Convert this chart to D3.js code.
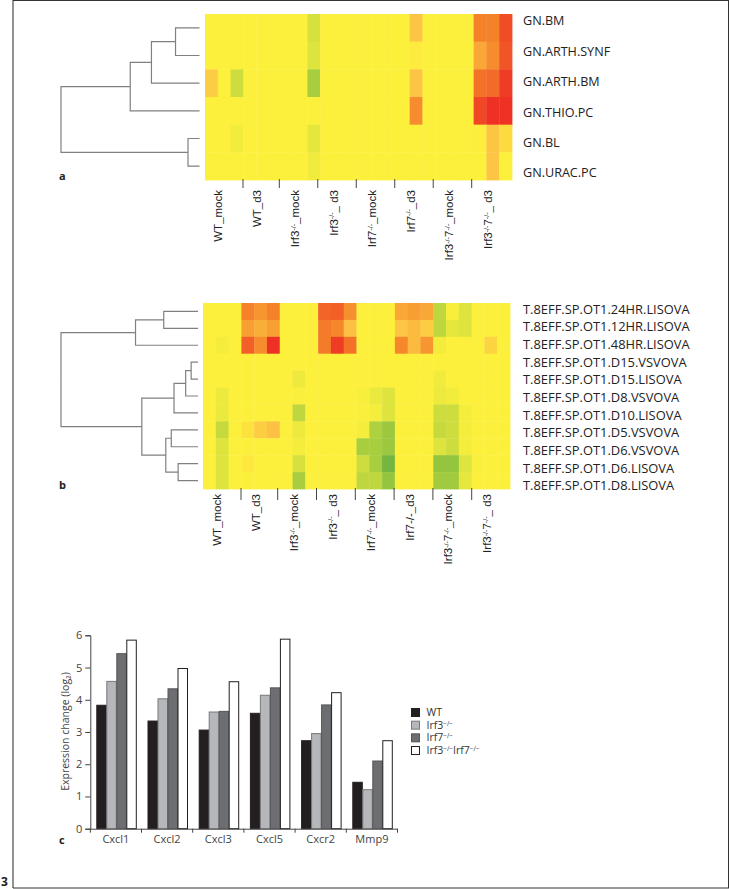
<!DOCTYPE html>
<html><head><meta charset="utf-8">
<script src="https://cdn.jsdelivr.net/npm/d3@7"></script>
<style>html,body{margin:0;padding:0;background:#fff}svg{display:block}</style>
</head><body><div id="c"></div>
<script>
const conditionsA = [
  [["WT_mock"]], [["WT_d3"]],
  [["Irf3"],["-/-","sup"],["_mock"]], [["Irf3"],["-/-","sup"],["_ d3"]],
  [["Irf7"],["-/-","sup"],["_mock"]], [["Irf7"],["-/-","sup"],["_d3"]],
  [["Irf3"],["-/-","sup"],["7"],["-/-","sup"],["_mock"]], [["Irf3"],["-/-","sup"],["7"],["-/-","sup"],["_ d3"]]
];
const conditionsB = [
  [["WT_mock"]], [["WT_d3"]],
  [["Irf3"],["-/-","sup"],["_mock"]], [["Irf3"],["-/-","sup"],["_ d3"]],
  [["Irf7"],["-/-","sup"],["_mock"]], [["Irf7-/-_d3"]],
  [["Irf3"],["-/-","sup"],["7"],["-/-","sup"],["_mock"]], [["Irf3"],["-/-","sup"],["7"],["-/-","sup"],["_ d3"]]
];
const rowsA = ["GN.BM","GN.ARTH.SYNF","GN.ARTH.BM","GN.THIO.PC","GN.BL","GN.URAC.PC"];
const rowsB = ["T.8EFF.SP.OT1.24HR.LISOVA","T.8EFF.SP.OT1.12HR.LISOVA","T.8EFF.SP.OT1.48HR.LISOVA","T.8EFF.SP.OT1.D15.VSVOVA","T.8EFF.SP.OT1.D15.LISOVA","T.8EFF.SP.OT1.D8.VSVOVA","T.8EFF.SP.OT1.D10.LISOVA","T.8EFF.SP.OT1.D5.VSVOVA","T.8EFF.SP.OT1.D6.VSVOVA","T.8EFF.SP.OT1.D6.LISOVA","T.8EFF.SP.OT1.D8.LISOVA"];
// expression matrices: 24 columns (3 per condition)
const heatA = [
 [0,0,0,0,0,0,0,0,-.25,0,0,0,0,0,0,0,.3,0,0,0,0,.65,.65,.88],
 [0,0,0,0,0,0,0,0,-.2,0,0,0,0,0,0,0,.03,0,0,0,0,.45,.6,.85],
 [.25,0,-.3,0,0,0,0,0,-.55,0,0,0,0,0,0,0,.3,0,0,0,0,.72,.75,.95],
 [0,0,0,0,0,0,0,0,0,0,0,0,0,0,0,0,.6,0,0,0,0,.9,1,1],
 [0,0,-.07,0,0,0,0,0,-.15,0,0,0,0,0,0,0,0,0,0,0,0,.02,.3,.15],
 [0,0,0,0,0,0,0,0,-.08,0,0,0,0,0,0,0,0,0,0,0,0,0,.3,0]
];
const heatB = [
 [0,0,0,.65,.55,.65,0,0,0,.78,.8,.58,0,0,0,.45,.5,.45,-.4,-.03,-.2,0,0,0],
 [0,0,0,.5,.42,.5,0,0,0,.68,.62,.32,0,0,0,.3,.35,.25,-.4,-.15,-.2,0,0,0],
 [0,-.05,0,.8,.6,1,0,0,0,.68,.95,.72,0,0,0,.62,.35,.55,-.06,0,0,0,.2,0],
 [0,0,0,0,0,0,0,0,0,0,0,0,0,0,0,0,0,0,0,0,0,0,0,0],
 [0,0,0,0,0,0,0,-.1,0,0,0,0,0,0,0,0,0,0,-.08,0,0,0,0,0],
 [0,-.1,0,0,0,0,0,-.02,0,0,0,0,-.03,-.12,-.2,0,0,0,-.1,-.07,0,0,0,0],
 [0,-.12,0,0,0,0,0,-.4,0,0,0,0,-.02,-.05,-.2,0,0,0,-.3,-.3,-.05,0,0,0],
 [0,-.35,0,.1,.25,.32,0,-.1,0,0,0,0,-.05,-.5,-.65,0,0,0,-.35,-.3,-.05,0,0,0],
 [0,-.2,0,0,0,0,0,-.05,0,0,0,0,-.55,-.55,-.65,0,0,0,-.2,-.3,-.05,0,0,0],
 [0,-.2,0,.05,0,0,0,-.25,0,0,0,0,-.3,-.55,-.95,0,0,0,-.7,-.7,-.2,-.02,0,0],
 [0,-.2,0,0,0,0,0,-.55,0,0,0,0,-.4,-.4,-.7,0,0,0,-.6,-.6,-.15,0,0,0]
];
// dendrograms as [mergeHeight, left, right]; a number is a row index
const treeA = [1,[.5,[.347,[.173,0,1],2],3],[.083,4,5]];
const treeB = [1,
  [.456,[.25,0,1],2],
  [.41,[.175,[.09,[.05,3,4],5],6],[.235,[.195,7,8],[.145,9,10]]]
];
const genes = ["Cxcl1","Cxcl2","Cxcl3","Cxcl5","Cxcr2","Mmp9"];
const strains = ["WT","Irf3","Irf7","Irf3Irf7"];
const strainLabels = [[["WT"]],[["Irf3"],["−/−","sup"]],[["Irf7"],["−/−","sup"]],[["Irf3"],["−/−","sup"],["Irf7"],["−/−","sup"]]];
const wt   = [3.83,3.34,3.06,3.58,2.73,1.44];
const irf3 = [4.57,4.03,3.62,4.14,2.95,1.21];
const irf7 = [5.43,4.34,3.64,4.37,3.84,2.10];
const dko  = [5.85,4.97,4.56,5.88,4.22,2.73];
const yTicks = [0,1,2,3,4,5,6];

const svg = d3.select("#c").append("svg").attr("width",729).attr("height",889);
const sans = "'Open Sans','Noto Sans',sans-serif", arial = "'Liberation Sans',Arial,sans-serif";

// page frame
svg.append("path").attr("d","M13,0V888").attr("stroke","#777").attr("stroke-width",1.6).attr("fill","none");
svg.append("path").attr("d","M13,0.5H729M13,888H729").attr("stroke","#333").attr("stroke-width",1.2).attr("fill","none");
svg.append("path").attr("d","M728.5,0V888").attr("stroke","#333").attr("stroke-width",1).attr("fill","none");
svg.append("text").attr("x",1).attr("y",886).attr("font-family",sans).attr("font-weight",700).attr("font-size",12).attr("fill","#222").text("3");

const color = d3.scaleLinear().domain([-1,-.5,0,.3,.65,1])
  .range(["#6db33f","#aed13f","#fdf03c","#fcc543","#f58229","#ee3124"]);

function rich(sel, parts, size){
  let back = 0;
  parts.forEach(p=>{
    const sup = p[1]==="sup";
    const rise = sup ? -size*.3 : 0;
    sel.append("tspan").attr("font-size",sup?size*.62:size).attr("dy",back+rise).text(p[0]);
    back = -rise;
  });
}

function heatmap(o){
  const g = svg.append("g");
  const x = d3.scaleBand().domain(d3.range(24)).range([o.x0,o.x1]);
  const y = d3.scaleBand().domain(d3.range(o.rows.length)).range([o.y0,o.y1]);
  o.data.forEach((row,r)=>row.forEach((v,c)=>{
    g.append("rect").attr("x",x(c)).attr("y",y(r)).attr("width",x.bandwidth()+.4).attr("height",y.bandwidth()+.4)
      .attr("fill",color(v));
  }));
  const ly = d3.scalePoint().domain(d3.range(o.rows.length)).range(o.labelY);
  o.rows.forEach((t,i)=>g.append("text").attr("x",o.labelX).attr("y",ly(i)).attr("dy","0.35em")
    .attr("font-family",sans).attr("font-size",o.labelSize).attr("fill","#222").text(t));
  const tick = d3.scaleLinear().domain([1,2,7]).range(o.tickX);
  d3.range(1,8).forEach(i=>g.append("line").attr("x1",tick(i)).attr("x2",tick(i))
    .attr("y1",o.y1-1).attr("y2",o.y1+o.tickLen).attr("stroke","#444").attr("stroke-width",1));
  const lab = d3.scalePoint().domain(d3.range(8)).range(o.condX);
  o.conds.forEach((parts,i)=>{
    const t = g.append("text").attr("transform",`translate(${lab(i)+4},${o.condY}) rotate(-90)`)
      .attr("text-anchor","end").attr("font-family",arial).attr("fill","#222");
    rich(t,parts,11.5);
  });
  const dx = d3.scaleLinear().domain([0,1]).range([o.dendLeaf,o.dendRoot]);
  const path = d3.path();
  function walk(n){
    if(typeof n==="number") return {h:0,y:y(n)+y.bandwidth()/2};
    const a = walk(n[1]), b = walk(n[2]), X = dx(n[0]);
    path.moveTo(dx(a.h),a.y); path.lineTo(X,a.y); path.lineTo(X,b.y); path.lineTo(dx(b.h),b.y);
    return {h:n[0],y:(a.y+b.y)/2};
  }
  walk(o.tree);
  g.append("path").attr("d",path.toString()).attr("fill","none").attr("stroke","#808080").attr("stroke-width",1.2);
}
heatmap({x0:205,x1:512,y0:14,y1:180,data:heatA,rows:rowsA,conds:conditionsA,labelX:523,labelY:[21,173],labelSize:12.6,
  tickX:[243,279.3,471.7],tickLen:8,condX:[218,488],condY:190,tree:treeA,dendLeaf:199.5,dendRoot:61});
heatmap({x0:203,x1:510,y0:303,y1:489,data:heatB,rows:rowsB,conds:conditionsB,labelX:523,labelY:[309.3,485.7],labelSize:12.9,
  tickX:[241,277.7,471.7],tickLen:11,condX:[217,487],condY:494,tree:treeB,dendLeaf:198,dendRoot:61});

function letter(t,x,y){svg.append("text").attr("x",x).attr("y",y).attr("font-family",sans).attr("font-weight",700).attr("font-size",11).attr("fill","#222").text(t);}
letter("a",59,180); letter("b",59,489); letter("c",59,844);

// bar chart
const xB = d3.scaleBand().domain(genes).range([90.3,397.5]);
const xS = d3.scaleBand().domain(strains).range([6,46]);
const yB = d3.scaleLinear().domain([0,6]).range([828.7,635.3]);
const fills = ["#231f20","#b6b7ba","#6d6e71","#ffffff"];
const strokes = ["#231f20","#77787b","#55565a","#231f20"];
[wt,irf3,irf7,dko].forEach((vals,s)=>{
  vals.forEach((v,i)=>{
    svg.append("rect").attr("x",xB(genes[i])+xS(strains[s])+.5).attr("y",yB(v))
      .attr("width",xS.bandwidth()-.5).attr("height",yB(0)-yB(v))
      .attr("fill",fills[s]).attr("stroke",strokes[s]).attr("stroke-width",1);
  });
});
const axY = svg.append("g").attr("transform","translate(90.3,0)")
  .call(d3.axisLeft(yB).tickValues(yTicks).tickFormat(d3.format("d")).tickSize(5).tickPadding(3));
const axX = svg.append("g").attr("transform","translate(0,828.7)")
  .call(d3.axisBottom(xB).tickSize(0).tickPadding(7));
axX.selectAll(".tick line").remove();
genes.concat(["end"]).forEach(g=>{
  const X = g==="end"?xB.range()[1]:xB(g);
  axX.append("line").attr("x1",X).attr("x2",X).attr("y1",0).attr("y2",4).attr("stroke","#444");
});
[axY,axX].forEach(a=>{
  a.selectAll("path.domain").attr("stroke","#444");
  a.selectAll(".tick line").attr("stroke","#444");
  a.selectAll("text").attr("font-family",sans).attr("font-size",11).attr("fill","#444");
});
svg.append("text").attr("transform","translate(69,731.5) rotate(-90)").attr("text-anchor","middle")
  .attr("font-family",sans).attr("font-size",10.5).attr("fill","#444").text("Expression change (log₂)");

// legend
const yL = d3.scalePoint().domain(strains).range([712.5,750.5]);
strains.forEach((s,i)=>{
  svg.append("rect").attr("x",411.5).attr("y",yL(s)-4).attr("width",8).attr("height",8)
    .attr("fill",fills[i]).attr("stroke",strokes[i]);
  const t = svg.append("text").attr("x",426.5).attr("y",yL(s)+3.5).attr("font-family",sans).attr("fill","#333");
  rich(t,strainLabels[i],10.5);
});
</script></body></html>
